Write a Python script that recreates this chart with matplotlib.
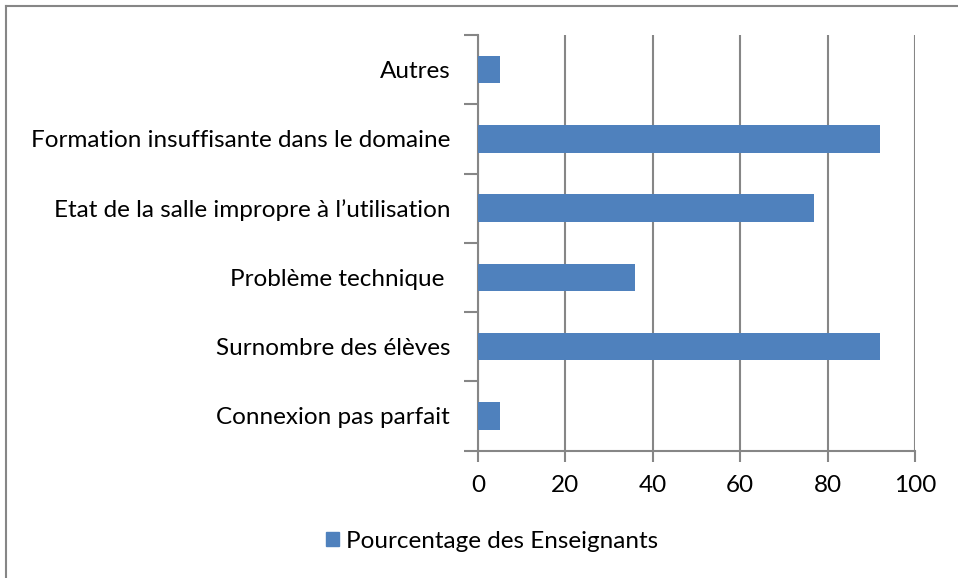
import matplotlib
matplotlib.use("Agg")
import matplotlib.pyplot as plt
from matplotlib.patches import Rectangle
from matplotlib.lines import Line2D

categories = ["Connexion pas parfait", "Surnombre des élèves", "Problème technique ",
              "Etat de la salle impropre à l’utilisation",
              "Formation insuffisante dans le domaine", "Autres"]
values = [5, 92, 36, 77, 92, 5]
xticks = [0, 20, 40, 60, 80, 100]
series_name = "Pourcentage des Enseignants"

plt.rcParams['font.family'] = ['Lato', 'DejaVu Sans']
W, H = 958, 578
fs = 17.5
fig = plt.figure(figsize=(W/100, H/100), dpi=100)
ax = fig.add_axes([478/W, 1-450.5/H, (915-478)/W, (450.5-35)/H])

bar_color = "#4F81BD"
grid_color = "#868686"
ax.barh(range(len(categories)), values, height=0.4, color=bar_color, zorder=3)
ax.set_xlim(0, 100)
ax.set_ylim(-0.5, len(categories)-0.5)
ax.set_xticks(xticks)
ax.set_xticklabels([str(t) for t in xticks], fontsize=fs)
ax.set_yticks(range(len(categories)))
ax.set_yticklabels(categories, fontsize=fs)
ax.tick_params(axis='y', length=0, pad=20)
ax.tick_params(axis='x', length=8, width=1.5, color=grid_color, pad=10)
ax.set_yticks([i-0.5 for i in range(len(categories)+1)], minor=True)
ax.tick_params(axis='y', which='minor', length=10, width=1.5, color=grid_color)
ax.grid(axis='x', color=grid_color, linewidth=1.5, zorder=0)
for s in ['top', 'right']:
    ax.spines[s].set_visible(False)
for s in ['left', 'bottom']:
    ax.spines[s].set_color(grid_color)
    ax.spines[s].set_linewidth(1.5)

handle = Rectangle((0, 0), 1, 1, color=bar_color)
fig.legend([handle], [series_name], loc='center', bbox_to_anchor=(492/W, 1-541/H),
           frameon=False, fontsize=fs, handlelength=0.55, handleheight=0.55,
           handletextpad=0.3)

fig.add_artist(Line2D([6/W, 6/W], [0, 1-6/H], color="#868686", linewidth=1.5,
                      transform=fig.transFigure))
fig.add_artist(Line2D([6/W, 1], [1-6/H, 1-6/H], color="#868686", linewidth=1.5,
                      transform=fig.transFigure))

fig.savefig("out.png", dpi=100)
